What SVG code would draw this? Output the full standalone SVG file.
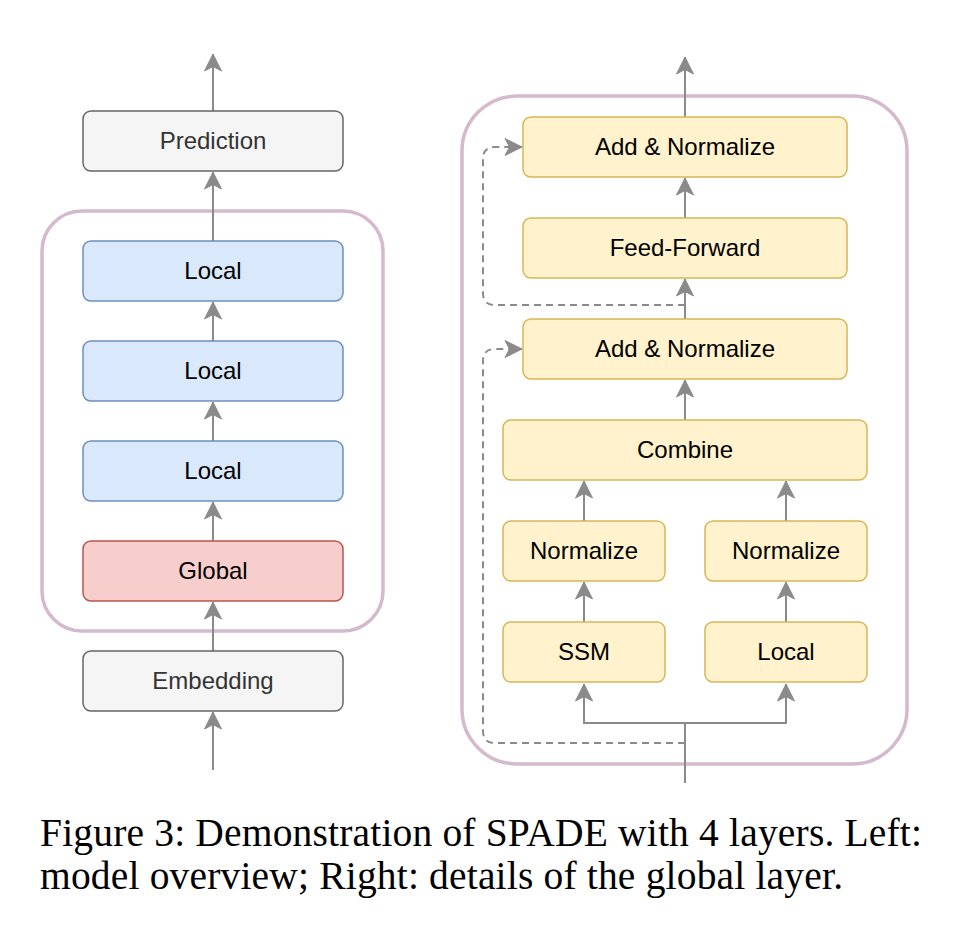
<svg xmlns="http://www.w3.org/2000/svg" width="962" height="938" viewBox="0 0 962 938">
<defs>
<marker id="arr" viewBox="-18 -10 20 20" refX="0" refY="0" markerWidth="20" markerHeight="20" markerUnits="userSpaceOnUse" orient="auto">
<path d="M0,0 L-17,-8.5 L-12.5,0 L-17,8.5 Z" fill="#8a8a8a" stroke="#8a8a8a" stroke-width="1" stroke-linejoin="miter"/>
</marker>
</defs>
<style>
.grp{fill:none;stroke:#d5b9cc;stroke-width:3.5}
.gray{fill:#f5f5f5;stroke:#666666;stroke-width:1.5}
.blue{fill:#dae8fc;stroke:#6c8ebf;stroke-width:1.5}
.red{fill:#f8cecc;stroke:#b85450;stroke-width:1.5}
.yel{fill:#fff2cc;stroke:#d6b656;stroke-width:1.5}
.lbl{font-family:"Liberation Sans",Arial,sans-serif;font-size:24px;text-anchor:middle;fill:#000}
.lblg{font-family:"Liberation Sans",Arial,sans-serif;font-size:24px;text-anchor:middle;fill:#333333}
.ln{fill:none;stroke:#8a8a8a;stroke-width:2;marker-end:url(#arr)}
.dash{fill:none;stroke:#8a8a8a;stroke-width:2;stroke-dasharray:7,5;marker-end:url(#arr)}
.cap{font-family:"Liberation Serif","Times New Roman",serif;font-size:39.5px;fill:#000}
</style>
<rect width="962" height="938" fill="#ffffff"/>
<g id="groups">
<rect id="left-group" class="grp" x="42" y="211" width="341" height="420" rx="40"/>
<rect id="right-group" class="grp" x="462" y="96" width="445" height="668" rx="55"/>
</g>
<g id="connectors">
<path class="ln" d="M213,111 V54"/>
<path class="ln" d="M213,241 V172"/>
<path class="ln" d="M213,341 V302"/>
<path class="ln" d="M213,441 V402"/>
<path class="ln" d="M213,541 V502"/>
<path class="ln" d="M213,651 V602"/>
<path class="ln" d="M213,770 V712"/>
<path class="ln" d="M685,117 V57"/>
<path class="ln" d="M685,218 V178"/>
<path class="ln" d="M685,319 V279"/>
<path class="ln" d="M685,420 V380"/>
<path class="ln" d="M584,521 V481"/>
<path class="ln" d="M786,521 V481"/>
<path class="ln" d="M584,622 V582"/>
<path class="ln" d="M786,622 V582"/>
<path class="ln" d="M685,783 V723 H584 V684"/>
<path class="ln" d="M685,723 H786 V684"/>
<path class="dash" d="M685,743 H495 Q483,743 483,731 V361 Q483,349 495,349 H522"/>
<path class="dash" d="M685,305 H495 Q483,305 483,293 V159 Q483,147 495,147 H522"/>
</g>
<g id="prediction"><rect class="gray" x="83" y="111" width="260" height="60" rx="8"/><text class="lblg" x="213" y="149">Prediction</text></g>
<g id="local-1"><rect class="blue" x="83" y="241" width="260" height="60" rx="8"/><text class="lbl" x="213" y="279">Local</text></g>
<g id="local-2"><rect class="blue" x="83" y="341" width="260" height="60" rx="8"/><text class="lbl" x="213" y="379">Local</text></g>
<g id="local-3"><rect class="blue" x="83" y="441" width="260" height="60" rx="8"/><text class="lbl" x="213" y="479">Local</text></g>
<g id="global"><rect class="red" x="83" y="541" width="260" height="60" rx="8"/><text class="lbl" x="213" y="579">Global</text></g>
<g id="embedding"><rect class="gray" x="83" y="651" width="260" height="60" rx="8"/><text class="lblg" x="213" y="689">Embedding</text></g>
<g id="add-norm-1"><rect class="yel" x="523" y="117" width="324" height="60" rx="8"/><text class="lbl" x="685" y="155">Add &amp; Normalize</text></g>
<g id="feed-forward"><rect class="yel" x="523" y="218" width="324" height="60" rx="8"/><text class="lbl" x="685" y="256">Feed-Forward</text></g>
<g id="add-norm-2"><rect class="yel" x="523" y="319" width="324" height="60" rx="8"/><text class="lbl" x="685" y="357">Add &amp; Normalize</text></g>
<g id="combine"><rect class="yel" x="503" y="420" width="364" height="60" rx="8"/><text class="lbl" x="685" y="458">Combine</text></g>
<g id="normalize-l"><rect class="yel" x="503" y="521" width="162" height="60" rx="8"/><text class="lbl" x="584" y="559">Normalize</text></g>
<g id="normalize-r"><rect class="yel" x="705" y="521" width="162" height="60" rx="8"/><text class="lbl" x="786" y="559">Normalize</text></g>
<g id="ssm"><rect class="yel" x="503" y="622" width="162" height="60" rx="8"/><text class="lbl" x="584" y="660">SSM</text></g>
<g id="local-r"><rect class="yel" x="705" y="622" width="162" height="60" rx="8"/><text class="lbl" x="786" y="660">Local</text></g>
<g id="caption">
<text class="cap" x="40" y="846" textLength="882" lengthAdjust="spacing">Figure 3: Demonstration of SPADE with 4 layers. Left:</text>
<text class="cap" x="40" y="889" textLength="803" lengthAdjust="spacing">model overview; Right: details of the global layer.</text>
</g>
</svg>
